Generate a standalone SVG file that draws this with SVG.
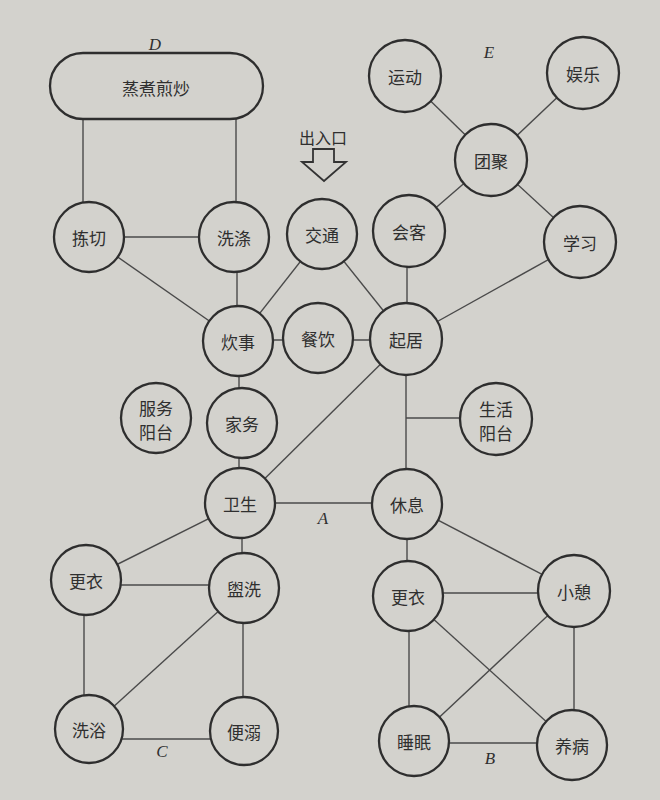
<svg xmlns="http://www.w3.org/2000/svg" width="660" height="800" viewBox="0 0 660 800">
<style>
.bg{fill:#d3d2cd}
.n circle,.n rect{fill:#d3d2cd;stroke:#2e2e2e;stroke-width:2.3}
.e line,.e polyline{stroke:#4a4a4a;stroke-width:1.4;fill:none}
text{font-family:"Noto Sans CJK SC","Noto Sans CJK JP",sans-serif;font-size:17px;fill:#2f2f2f;text-anchor:middle;dominant-baseline:central}
.lbl{font-family:"Liberation Serif",serif;font-style:italic;font-size:17px}
.arrow{fill:#d3d2cd;stroke:#333;stroke-width:1.8}
</style>
<rect class="bg" x="0" y="0" width="660" height="800"/>
<g id="connectors" class="e">
<line x1="83" y1="119" x2="83" y2="202"/>
<line x1="236" y1="119" x2="236" y2="202"/>
<line x1="89" y1="237" x2="234" y2="237"/>
<line x1="89" y1="237" x2="238" y2="341"/>
<line x1="237" y1="237" x2="237" y2="341"/>
<line x1="322" y1="234" x2="238" y2="341"/>
<line x1="322" y1="234" x2="406" y2="339"/>
<line x1="238" y1="340" x2="406" y2="340"/>
<line x1="407" y1="231" x2="407" y2="339"/>
<line x1="409" y1="231" x2="491" y2="160"/>
<line x1="405" y1="76" x2="491" y2="160"/>
<line x1="583" y1="73" x2="491" y2="160"/>
<line x1="580" y1="242" x2="491" y2="160"/>
<line x1="580" y1="242" x2="406" y2="339"/>
<line x1="239" y1="341" x2="239" y2="503"/>
<line x1="406" y1="339" x2="240" y2="503"/>
<line x1="406" y1="339" x2="406" y2="504"/>
<line x1="406" y1="418" x2="496" y2="418"/>
<line x1="240" y1="503" x2="407" y2="503"/>
<line x1="240" y1="503" x2="86" y2="580"/>
<line x1="242" y1="503" x2="242" y2="588"/>
<line x1="86" y1="585" x2="244" y2="585"/>
<line x1="84" y1="580" x2="84" y2="729"/>
<line x1="244" y1="588" x2="89" y2="729"/>
<line x1="243" y1="588" x2="243" y2="731"/>
<line x1="89" y1="739" x2="244" y2="739"/>
<line x1="407" y1="504" x2="407" y2="596"/>
<line x1="407" y1="504" x2="574" y2="591"/>
<line x1="408" y1="593" x2="574" y2="593"/>
<line x1="409" y1="596" x2="409" y2="741"/>
<line x1="408" y1="596" x2="572" y2="745"/>
<line x1="574" y1="591" x2="414" y2="741"/>
<line x1="574" y1="591" x2="574" y2="745"/>
<line x1="414" y1="743" x2="572" y2="743"/>
</g>
<g id="n-zhengzhu" class="n"><rect x="50" y="53" width="213" height="66" rx="33"/><text x="156" y="87">蒸煮煎炒</text></g>
<g id="n-jianqie" class="n"><circle cx="89" cy="237" r="35"/><text x="89" y="237">拣切</text></g>
<g id="n-xidi" class="n"><circle cx="234" cy="237" r="35"/><text x="234" y="237">洗涤</text></g>
<g id="n-jiaotong" class="n"><circle cx="322" cy="234" r="35"/><text x="322" y="234">交通</text></g>
<g id="n-huike" class="n"><circle cx="409" cy="231" r="36"/><text x="409" y="231">会客</text></g>
<g id="n-yundong" class="n"><circle cx="405" cy="76" r="36"/><text x="405" y="76">运动</text></g>
<g id="n-yule" class="n"><circle cx="583" cy="73" r="36"/><text x="583" y="73">娱乐</text></g>
<g id="n-tuanju" class="n"><circle cx="491" cy="160" r="36"/><text x="491" y="160">团聚</text></g>
<g id="n-xuexi" class="n"><circle cx="580" cy="242" r="36"/><text x="580" y="242">学习</text></g>
<g id="n-chuishi" class="n"><circle cx="238" cy="341" r="35"/><text x="238" y="341">炊事</text></g>
<g id="n-canyin" class="n"><circle cx="318" cy="338" r="35"/><text x="318" y="338">餐饮</text></g>
<g id="n-qiju" class="n"><circle cx="406" cy="339" r="36"/><text x="406" y="339">起居</text></g>
<g id="n-fuwu" class="n"><circle cx="156" cy="418" r="35"/><text x="156" y="407">服务</text><text x="156" y="431">阳台</text></g>
<g id="n-jiawu" class="n"><circle cx="242" cy="423" r="35"/><text x="242" y="423">家务</text></g>
<g id="n-shenghuo" class="n"><circle cx="496" cy="419" r="36"/><text x="496" y="408">生活</text><text x="496" y="432">阳台</text></g>
<g id="n-weisheng" class="n"><circle cx="240" cy="503" r="35"/><text x="240" y="503">卫生</text></g>
<g id="n-xiuxi" class="n"><circle cx="407" cy="504" r="35"/><text x="407" y="504">休息</text></g>
<g id="n-gengyi-l" class="n"><circle cx="86" cy="580" r="35"/><text x="86" y="580">更衣</text></g>
<g id="n-guanxi" class="n"><circle cx="244" cy="588" r="35"/><text x="244" y="588">盥洗</text></g>
<g id="n-xiyu" class="n"><circle cx="89" cy="729" r="34"/><text x="89" y="729">洗浴</text></g>
<g id="n-bianni" class="n"><circle cx="244" cy="731" r="34"/><text x="244" y="731">便溺</text></g>
<g id="n-gengyi-r" class="n"><circle cx="408" cy="596" r="35"/><text x="408" y="596">更衣</text></g>
<g id="n-xiaoqi" class="n"><circle cx="574" cy="591" r="36"/><text x="574" y="591">小憩</text></g>
<g id="n-shuimian" class="n"><circle cx="414" cy="741" r="35"/><text x="414" y="741">睡眠</text></g>
<g id="n-yangbing" class="n"><circle cx="572" cy="745" r="35"/><text x="572" y="745">养病</text></g>
<g id="entrance">
<text x="323" y="137" style="font-size:16px">出入口</text>
<polygon class="arrow" points="313,149 334,149 334,162 346,162 324,181 302,162 313,162"/>
</g>
<g id="labels">
<text class="lbl" x="155" y="44">D</text>
<text class="lbl" x="489" y="52">E</text>
<text class="lbl" x="323" y="518">A</text>
<text class="lbl" x="162" y="751">C</text>
<text class="lbl" x="490" y="758">B</text>
</g>
</svg>
